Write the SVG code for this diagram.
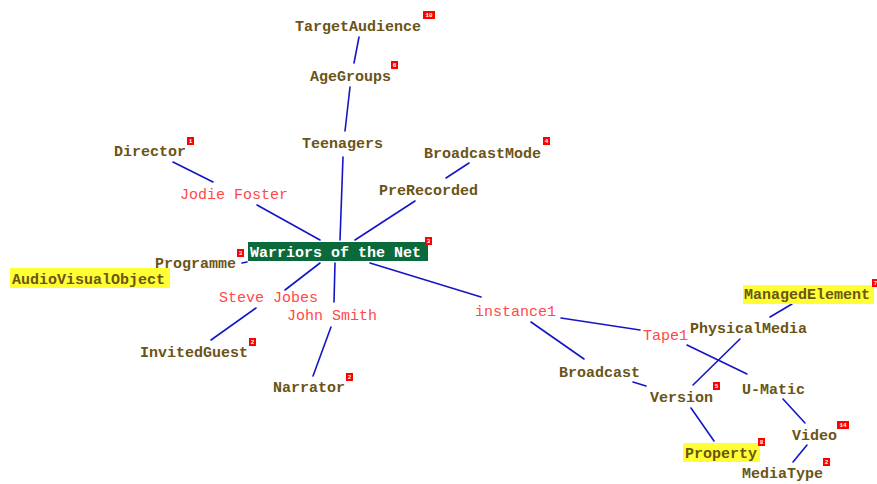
<svg xmlns="http://www.w3.org/2000/svg" width="877" height="484" viewBox="0 0 877 484">
<style>
  .lbl { font-size: 15px; }
  .cls { fill: #6b5416; font-weight: bold; }
  .ind { fill: #ff4848; }
  .main { fill: #ffffff; font-weight: bold; }
  .hl { fill: #ffff33; }
  .box { fill: #0b6a3c; }
  .badge { fill: #ff0000; }
  .bt { font-size: 6px; fill: #ffffff; font-weight: bold; text-anchor: middle; }
  .edge { stroke: #1515c8; stroke-width: 1.6; fill: none; stroke-linecap: round; }
</style>
<rect width="877" height="484" fill="#ffffff"/>

<g id="connectors">
  <line class="edge" x1="359" y1="37" x2="354" y2="63"/>
  <line class="edge" x1="350" y1="87" x2="345" y2="131"/>
  <line class="edge" x1="343" y1="157" x2="340" y2="240"/>
  <line class="edge" x1="173" y1="162" x2="213" y2="182"/>
  <line class="edge" x1="257" y1="205" x2="320" y2="240"/>
  <line class="edge" x1="469" y1="163" x2="446" y2="178"/>
  <line class="edge" x1="415" y1="201" x2="355" y2="240"/>
  <line class="edge" x1="242" y1="263" x2="247" y2="262"/>
  <line class="edge" x1="320" y1="263" x2="285" y2="290"/>
  <line class="edge" x1="335" y1="263" x2="334" y2="302"/>
  <line class="edge" x1="256" y1="308" x2="211" y2="340"/>
  <line class="edge" x1="331" y1="327" x2="313" y2="376"/>
  <line class="edge" x1="370" y1="263" x2="481" y2="297"/>
  <line class="edge" x1="561" y1="318" x2="640" y2="330"/>
  <line class="edge" x1="531" y1="322" x2="584" y2="359"/>
  <line class="edge" x1="633" y1="382" x2="646" y2="386"/>
  <line class="edge" x1="687" y1="345" x2="747" y2="374"/>
  <line class="edge" x1="740" y1="339" x2="693" y2="385"/>
  <line class="edge" x1="792" y1="304" x2="770" y2="317"/>
  <line class="edge" x1="691" y1="408" x2="714" y2="441"/>
  <line class="edge" x1="783" y1="399" x2="805" y2="423"/>
  <line class="edge" x1="807" y1="445" x2="793" y2="462"/>
</g>

<g font-family="Liberation Mono, DejaVu Sans Mono, monospace">
<g id="n-targetaudience">
  <text class="lbl cls" x="295" y="31">TargetAudience</text>
  <rect class="badge" x="423" y="11" width="12" height="8"/><text class="bt" x="429" y="17">10</text>
</g>
<g id="n-agegroups">
  <text class="lbl cls" x="310" y="81">AgeGroups</text>
  <rect class="badge" x="391" y="61" width="7" height="8"/><text class="bt" x="394.5" y="67">6</text>
</g>
<g id="n-teenagers">
  <text class="lbl cls" x="302" y="148">Teenagers</text>
</g>
<g id="n-director">
  <text class="lbl cls" x="114" y="156">Director</text>
  <rect class="badge" x="187" y="137" width="7" height="8"/><text class="bt" x="190.5" y="143">1</text>
</g>
<g id="n-jodiefoster">
  <text class="lbl ind" x="180" y="199">Jodie Foster</text>
</g>
<g id="n-broadcastmode">
  <text class="lbl cls" x="424" y="158">BroadcastMode</text>
  <rect class="badge" x="543" y="137" width="7" height="8"/><text class="bt" x="546.5" y="143">4</text>
</g>
<g id="n-prerecorded">
  <text class="lbl cls" x="379" y="195">PreRecorded</text>
</g>
<g id="n-programme">
  <text class="lbl cls" x="155" y="268">Programme</text>
  <rect class="badge" x="237" y="249" width="7" height="8"/><text class="bt" x="240.5" y="255">3</text>
</g>
<g id="n-warriors">
  <rect class="box" x="248" y="242" width="180" height="19"/>
  <text class="lbl main" x="250" y="257">Warriors of the Net</text>
  <rect class="badge" x="425" y="237" width="7" height="8"/><text class="bt" x="428.5" y="243">3</text>
</g>
<g id="n-audiovisualobject">
  <rect class="hl" x="10" y="268" width="160" height="20"/>
  <text class="lbl cls" x="12" y="284">AudioVisualObject</text>
</g>
<g id="n-stevejobes">
  <text class="lbl ind" x="219" y="302">Steve Jobes</text>
</g>
<g id="n-johnsmith">
  <text class="lbl ind" x="287" y="320">John Smith</text>
</g>
<g id="n-invitedguest">
  <text class="lbl cls" x="140" y="357">InvitedGuest</text>
  <rect class="badge" x="249" y="338" width="7" height="8"/><text class="bt" x="252.5" y="344">2</text>
</g>
<g id="n-narrator">
  <text class="lbl cls" x="273" y="392">Narrator</text>
  <rect class="badge" x="346" y="373" width="7" height="8"/><text class="bt" x="349.5" y="379">2</text>
</g>
<g id="n-instance1">
  <text class="lbl ind" x="475" y="316">instance1</text>
</g>
<g id="n-tape1">
  <text class="lbl ind" x="643" y="340">Tape1</text>
</g>
<g id="n-physicalmedia">
  <text class="lbl cls" x="690" y="333">PhysicalMedia</text>
</g>
<g id="n-managedelement">
  <rect class="hl" x="743" y="285" width="131" height="19"/>
  <text class="lbl cls" x="744" y="299">ManagedElement</text>
  <rect class="badge" x="872" y="279" width="7" height="8"/><text class="bt" x="875.5" y="285">7</text>
</g>
<g id="n-broadcast">
  <text class="lbl cls" x="559" y="377">Broadcast</text>
</g>
<g id="n-version">
  <text class="lbl cls" x="650" y="402">Version</text>
  <rect class="badge" x="713" y="382" width="7" height="8"/><text class="bt" x="716.5" y="388">5</text>
</g>
<g id="n-umatic">
  <text class="lbl cls" x="742" y="394">U-Matic</text>
</g>
<g id="n-video">
  <text class="lbl cls" x="792" y="440">Video</text>
  <rect class="badge" x="837" y="421" width="12" height="8"/><text class="bt" x="843" y="427">14</text>
</g>
<g id="n-property">
  <rect class="hl" x="683" y="443" width="77" height="19"/>
  <text class="lbl cls" x="685" y="458">Property</text>
  <rect class="badge" x="758" y="438" width="7" height="8"/><text class="bt" x="761.5" y="444">8</text>
</g>
<g id="n-mediatype">
  <text class="lbl cls" x="742" y="478">MediaType</text>
  <rect class="badge" x="823" y="458" width="7" height="8"/><text class="bt" x="826.5" y="464">2</text>
</g>
</g>
</svg>
